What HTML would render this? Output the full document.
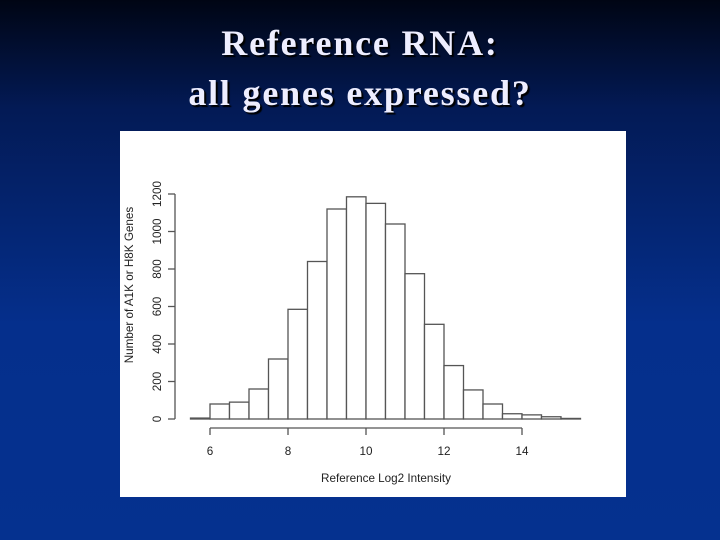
<!DOCTYPE html>
<html><head><meta charset="utf-8"><style>
body{margin:0;width:720px;height:540px;overflow:hidden;background:linear-gradient(#000514 0%,#031a55 20%,#052f8c 60%,#05318f 100%);font-family:"Liberation Sans",sans-serif;position:relative}
.t{position:absolute;left:0;width:720px;text-align:center;color:#eeeeff;font:bold 36px "Liberation Serif",serif;letter-spacing:1.8px;text-shadow:2px 2px 1px #000}
</style></head><body>
<div class="t" style="top:22px">Reference RNA:</div>
<div class="t" style="top:72px">all genes expressed?</div>
<svg id="c" width="506" height="366" style="position:absolute;left:120px;top:131px;background:#fff"></svg>
<script>
const binStarts=[5.5,6,6.5,7,7.5,8,8.5,9,9.5,10,10.5,11,11.5,12,12.5,13,13.5,14,14.5,15];
const counts=[5,80,90,160,320,585,840,1120,1185,1150,1040,775,505,285,155,80,28,22,12,3];
const xTicks=[6,8,10,12,14];
const yTicks=[0,200,400,600,800,1000,1200];
const binWidth=0.5;
const ox=120,oy=131;
const X=v=>210+(v-6)*39-ox;
const Y=v=>419-v*(225/1200)-oy;
const svg=document.getElementById('c');
const NS='http://www.w3.org/2000/svg';
function mk(t,a){const e=document.createElementNS(NS,t);for(const k in a)e.setAttribute(k,a[k]);svg.appendChild(e);return e;}
binStarts.forEach((b,i)=>{
 const r=mk('rect',{x:X(b),y:Y(counts[i]),width:X(b+binWidth)-X(b),height:Y(0)-Y(counts[i]),fill:'#fff',stroke:'#555','stroke-width':1.3});
 
 
});
const xa=mk('line',{x1:X(xTicks[0]),x2:X(xTicks[xTicks.length-1]),y1:428-oy,y2:428-oy,stroke:'#555','stroke-width':1.3});


xTicks.forEach(v=>{
 mk('line',{x1:X(v),x2:X(v),y1:428-oy,y2:435-oy,stroke:'#555','stroke-width':1.3});
 const t=mk('text',{x:X(v),y:455-oy,'text-anchor':'middle','font-size':11.7,fill:'#222'});t.textContent=v;
 
 
});
const ya=mk('line',{x1:175-ox,x2:175-ox,y1:Y(yTicks[0]),y2:Y(yTicks[yTicks.length-1]),stroke:'#555','stroke-width':1.3});


yTicks.forEach(v=>{
 mk('line',{x1:168-ox,x2:175-ox,y1:Y(v),y2:Y(v),stroke:'#555','stroke-width':1.3});
 const t=mk('text',{x:0,y:0,'text-anchor':'middle','font-size':11.7,fill:'#222',transform:`translate(${161-ox},${Y(v)}) rotate(-90)`});t.textContent=v;
 
 
});
const xt=mk('text',{x:386-ox,y:482-oy,'text-anchor':'middle','font-size':11.7,fill:'#222'});xt.textContent='Reference Log2 Intensity';


const yt=mk('text',{x:0,y:0,'text-anchor':'middle','font-size':11.7,fill:'#222',transform:`translate(${133-ox},${285-oy}) rotate(-90)`});yt.textContent='Number of A1K or H8K Genes';


</script>
</body></html>
